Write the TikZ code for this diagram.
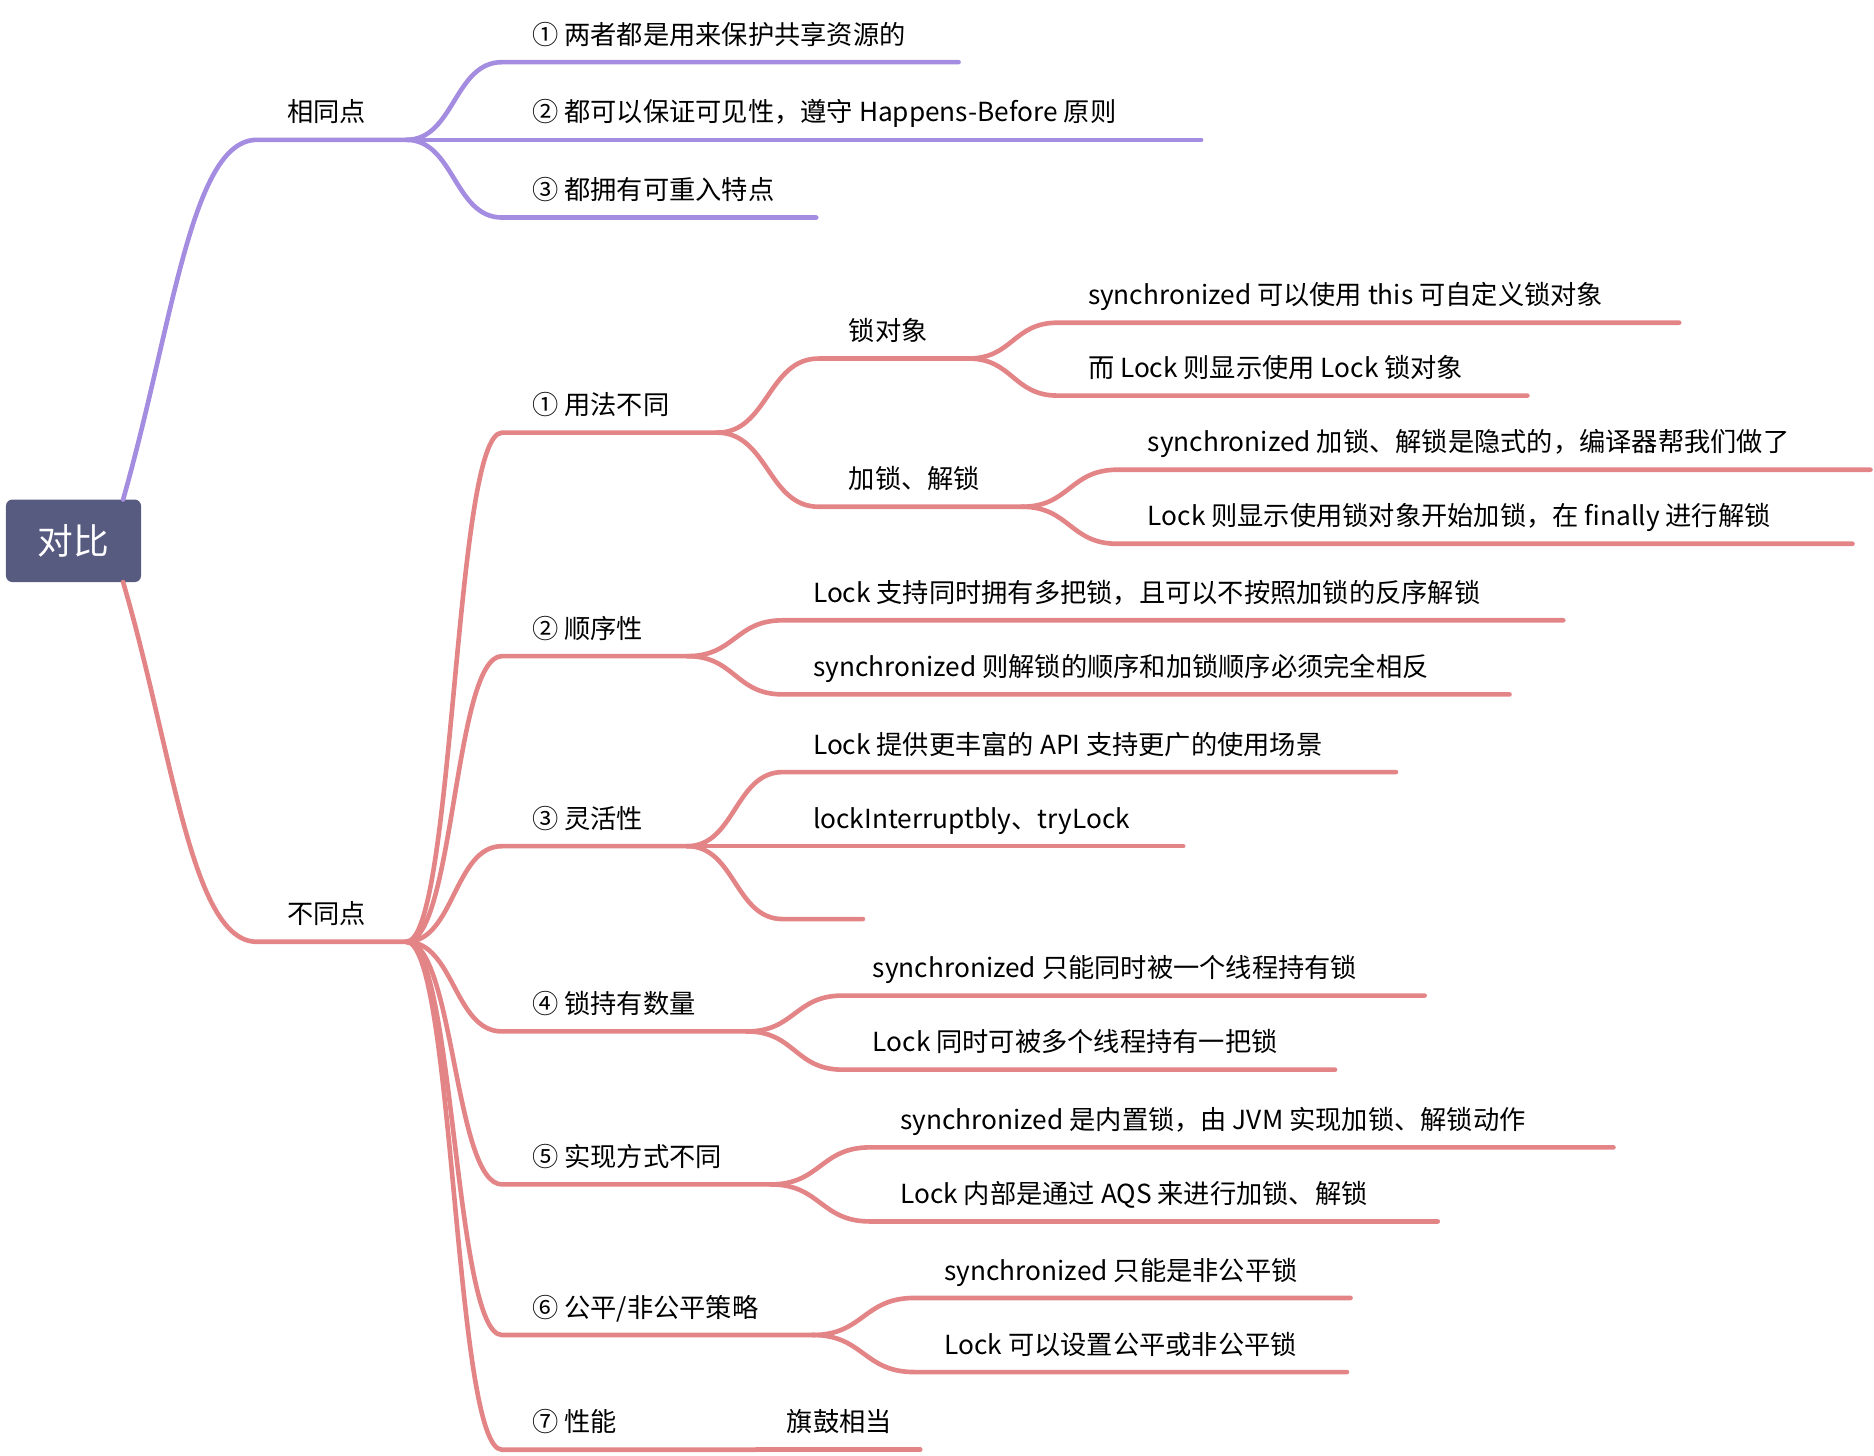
\documentclass[tikz,border=0pt]{standalone}
\usepackage{fontspec}
\setmainfont{Noto Sans CJK SC}
\usetikzlibrary{calc}
\definecolor{rootfill}{HTML}{575B80}
\definecolor{purpleline}{HTML}{A48CE0}
\definecolor{redline}{HTML}{E38486}

% branch: colour, parent end, name, start x, end x, y, label
\newcommand{\twig}[7]{%
  \coordinate (#3s) at (#4,#6);
  \coordinate (#3e) at (#5,#6);
  \node[lbl] (#3) at (#4+25,#6-15) {#7};
  \draw[#1] let \p1=(#2), \p2=(#3s) in
    (#2) .. controls ({0.5*\x1+0.5*\x2},\y1) and ({0.5*\x1+0.5*\x2},\y2) .. (#3s) -- (#3e);
}

\begin{document}
\begin{tikzpicture}[x=0.02cm, y=-0.02cm,
    lbl/.style={anchor=base west, inner sep=0pt, font=\fontsize{12.5}{15}\selectfont},
    pbr/.style={draw=purpleline, line width=2.2pt, line cap=round},
    rbr/.style={draw=redline, line width=2.2pt, line cap=round},
    rootbox/.style={fill=rootfill, rounded corners=3pt, text=white, font=\fontsize{17}{20}\selectfont}
]
\useasboundingbox (0,0) rectangle (1568,1218);

% root
\fill[rootfill, rounded corners=3pt] (5,418) rectangle (118,487);
\node[rootbox, fill=none] (root) at (61.5,452.5) {对比};
\coordinate (roottop) at (103,418);
\coordinate (rootbot) at (103,487);

% level one
\coordinate (sames) at (215,117); \coordinate (samee) at (340,117);
\coordinate (diffs) at (215,788); \coordinate (diffe) at (340,788);
\node[lbl] (same) at (240,102) {相同点};
\node[lbl] (diff) at (240,773) {不同点};
\draw[pbr] (roottop) .. controls (145,270) and (160,117) .. (sames) -- (samee);
\draw[rbr] (rootbot) .. controls (145,630) and (160,788) .. (diffs) -- (diffe);

% same points
\twig{pbr}{samee}{sa}{420}{802}{52}{① 两者都是用来保护共享资源的}
\twig{pbr}{samee}{sb}{420}{1005}{117}{② 都可以保证可见性，遵守 Happens-Before 原则}
\twig{pbr}{samee}{sc}{420}{683}{182}{③ 都拥有可重入特点}

% differences
\twig{rbr}{diffe}{da}{420}{600}{362}{① 用法不同}
\twig{rbr}{dae}{daa}{685}{810}{300}{锁对象}
\twig{rbr}{daae}{daaa}{885}{1405}{270}{synchronized 可以使用 this 可自定义锁对象}
\twig{rbr}{daae}{daab}{885}{1278}{331}{而 Lock 则显示使用 Lock 锁对象}
\twig{rbr}{dae}{dab}{685}{855}{424}{加锁、解锁}
\twig{rbr}{dabe}{daba}{935}{1565}{393}{synchronized 加锁、解锁是隐式的，编译器帮我们做了}
\twig{rbr}{dabe}{dabb}{935}{1550}{455}{Lock 则显示使用锁对象开始加锁，在 finally 进行解锁}

\twig{rbr}{diffe}{db}{420}{575}{549}{② 顺序性}
\twig{rbr}{dbe}{dba}{655}{1308}{519}{Lock 支持同时拥有多把锁，且可以不按照加锁的反序解锁}
\twig{rbr}{dbe}{dbb}{655}{1263}{581}{synchronized 则解锁的顺序和加锁顺序必须完全相反}

\twig{rbr}{diffe}{dc}{420}{575}{708}{③ 灵活性}
\twig{rbr}{dce}{dca}{655}{1168}{646}{Lock 提供更丰富的 API 支持更广的使用场景}
\twig{rbr}{dce}{dcb}{655}{990}{708}{lockInterruptbly、tryLock}
\twig{rbr}{dce}{dcc}{655}{722}{769}{}

\twig{rbr}{diffe}{dd}{420}{625}{863}{④ 锁持有数量}
\twig{rbr}{dde}{dda}{705}{1192}{833}{synchronized 只能同时被一个线程持有锁}
\twig{rbr}{dde}{ddb}{705}{1117}{895}{Lock 同时可被多个线程持有一把锁}

\twig{rbr}{diffe}{de}{420}{645}{991}{⑤ 实现方式不同}
\twig{rbr}{dee}{dea}{728}{1350}{960}{synchronized 是内置锁，由 JVM 实现加锁、解锁动作}
\twig{rbr}{dee}{deb}{728}{1203}{1022}{Lock 内部是通过 AQS 来进行加锁、解锁}

\twig{rbr}{diffe}{df}{420}{680}{1117}{⑥ 公平/非公平策略}
\twig{rbr}{dfe}{dfa}{765}{1130}{1086}{synchronized 只能是非公平锁}
\twig{rbr}{dfe}{dfb}{765}{1127}{1148}{Lock 可以设置公平或非公平锁}

\twig{rbr}{diffe}{dg}{420}{633}{1213}{⑦ 性能}
\twig{rbr}{dge}{dga}{633}{770}{1213}{旗鼓相当}
\end{tikzpicture}
\end{document}
